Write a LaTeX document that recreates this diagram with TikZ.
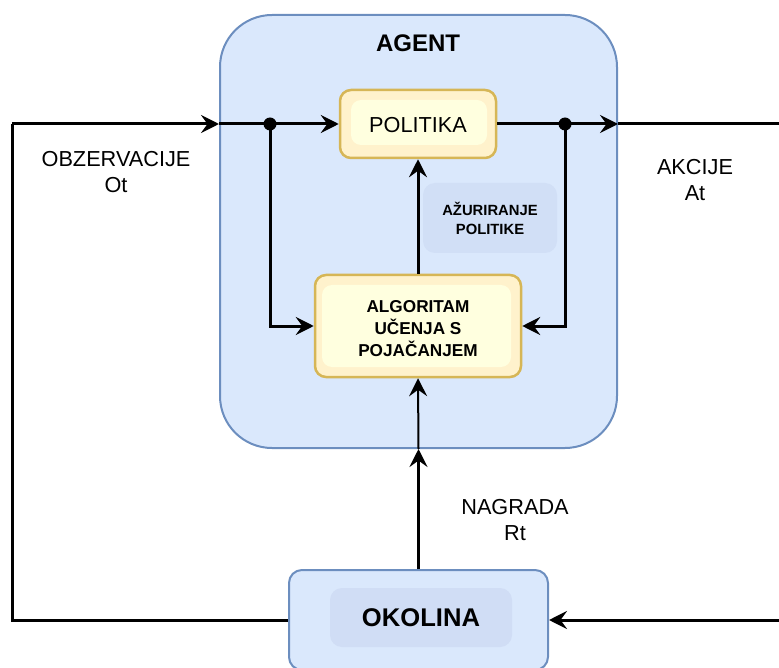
\documentclass[tikz,border=0pt]{standalone}
\usepackage{fontspec}
\setmainfont{Liberation Sans}
\usetikzlibrary{arrows.meta}
\definecolor{bluefill}{HTML}{DAE8FC}
\definecolor{bluestroke}{HTML}{6C8EBF}
\definecolor{bluein}{HTML}{D0DDF5}
\definecolor{yelfill}{HTML}{FFF2CC}
\definecolor{yelstroke}{HTML}{D6B656}
\definecolor{yelin}{HTML}{FFFFDF}
\tikzset{
  bluebox/.style={draw=bluestroke, fill=bluefill, line width=2pt},
  yelbox/.style={draw=yelstroke, fill=yelfill, line width=2.5pt, rounded corners=11pt},
  yelinner/.style={fill=yelin, draw=none, rounded corners=10pt},
  blueinner/.style={fill=bluein, draw=none, rounded corners=12pt},
  ln/.style={line width=3pt, black},
  thin ln/.style={line width=2pt, black},
  arr/.style={-{Stealth[length=18pt,width=18pt,inset=6.5pt]}},
  lbl/.style={font=\fontsize{21.7}{25.5}\selectfont, align=center},
}
\begin{document}
\begin{tikzpicture}[x=1pt,y=-1pt]
\useasboundingbox (0,0) rectangle (779,668);
% agent container
\node[bluebox, rounded corners=52pt, minimum width=397pt, minimum height=433pt, inner sep=0pt] (agent) at (418.5,231.5) {};
\node[font=\bfseries\fontsize{24}{28}\selectfont] (agentlbl) at (418,43) {AGENT};
% politika
\node[yelbox, minimum width=156pt, minimum height=68pt, inner sep=0pt] (politika) at (418,124) {};
\fill[yelinner] (351,100) rectangle (487,145);
\node[font=\fontsize{21.7}{24}\selectfont] (politikalbl) at (418,125) {POLITIKA};
% algoritam
\node[yelbox, minimum width=206pt, minimum height=102pt, inner sep=0pt] (algoritam) at (418,326) {};
\fill[yelinner] (322,285) rectangle (511,367);
\node[font=\bfseries\fontsize{17.2}{22}\selectfont, align=center] (algolbl) at (418,329) {ALGORITAM\\UČENJA S\\POJAČANJEM};
% azuriranje label
\node[blueinner, fill=bluein!85!bluefill, minimum width=134pt, minimum height=70pt, inner sep=0pt] (azur) at (490,218) {};
\node[font=\bfseries\fontsize{14.8}{19}\selectfont, align=center] (azurlbl) at (490,218) {AŽURIRANJE\\POLITIKE};
% okolina
\node[bluebox, rounded corners=13pt, minimum width=259pt, minimum height=100pt, inner sep=0pt] (okolina) at (418.5,620) {};
\fill[blueinner] (330,588) rectangle (512,647);
\node[font=\bfseries\fontsize{25.6}{28}\selectfont] (okolinalbl) at (421,618) {OKOLINA};
% coordinates
\coordinate (L) at (12,124);
\coordinate (AL) at (agent.west |- L);
\coordinate (d1) at (270,124);
\coordinate (d2) at (565,124);
\coordinate (AR) at (agent.east |- L);
\coordinate (R) at (800,124);
\coordinate (AB) at (agent.south -| okolina.north);
% connectors
\draw[ln] (okolina.west) -| (L);
\draw[ln,arr] (L) -- (AL);
\draw[ln,arr] (AL) -- (politika.west);
\draw[ln,arr] (d1) |- (algoritam.west);
\draw[ln,arr] (politika.east) -- (AR);
\draw[ln] (AR) -- (R);
\draw[ln,arr] (R) |- (okolina.east);
\draw[ln,arr] (d2) |- (algoritam.east);
\draw[ln,arr] (algoritam.north) -- (politika.south);
\draw[ln,arr] (okolina.north) -- (AB);
\draw[thin ln,arr] (AB) -- (algoritam.south);
\fill (d1) circle (6.5);
\fill (d2) circle (6.5);
% labels
\node[lbl] (obz) at (116,172) {OBZERVACIJE\\Ot};
\node[lbl] (akc) at (695,180) {AKCIJE\\At};
\node[lbl] (nag) at (515,520) {NAGRADA\\Rt};
\end{tikzpicture}
\end{document}
